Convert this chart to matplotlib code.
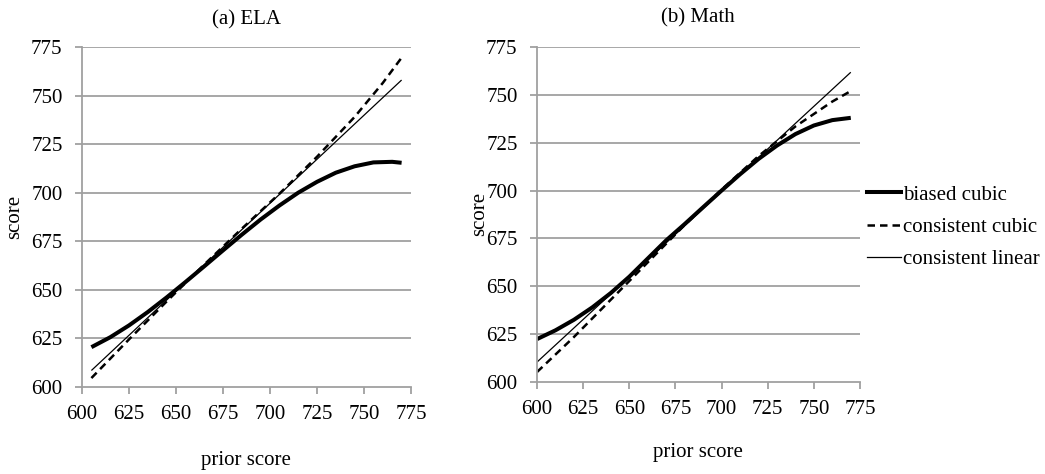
import matplotlib
matplotlib.use("Agg")
import matplotlib.pyplot as plt
from matplotlib.lines import Line2D

plt.rcParams['font.family'] = ['Liberation Serif', 'DejaVu Serif']

# ---------------- data ----------------
ela_x_biased = [605, 615, 625, 635, 645, 655, 665, 675, 685, 695, 705, 715, 725, 735, 745, 755, 765, 770]
ela_biased = [620.5, 625.6, 631.7, 638.6, 646.1, 654.0, 662.1, 670.3, 678.4, 686.2, 693.4, 700.0,
              705.6, 710.3, 713.6, 715.6, 715.9, 715.4]
ela_x_cubic = [605, 625, 645, 665, 685, 705, 725, 745, 760, 770]
ela_cubic = [604.6, 624.5, 644.0, 663.0, 681.5, 699.5, 718.5, 739.0, 756.5, 769.5]
ela_x_linear = [605, 770]
ela_linear = [608.5, 758.0]

math_x_biased = [600, 610, 620, 630, 640, 650, 660, 670, 680, 690, 700, 710, 720, 730, 740, 750, 760, 770]
math_biased = [622.4, 627.0, 632.5, 639.0, 646.5, 655.0, 664.5, 674.0, 682.5, 691.3, 700.0,
               708.5, 716.5, 723.5, 729.5, 734.0, 736.8, 738.0]
math_x_cubic = [600, 620, 640, 660, 680, 700, 720, 740, 760, 770]
math_cubic = [605.2, 623.5, 643.0, 662.5, 682.0, 700.5, 718.0, 733.5, 746.5, 752.0]
math_x_linear = [600, 770]
math_linear = [610.4, 761.8]

ticks = [600, 625, 650, 675, 700, 725, 750, 775]
titles = ["(a) ELA", "(b) Math"]
series_labels = ["biased cubic", "consistent cubic", "consistent linear"]

# ---------------- figure ----------------
W, H = 1045, 474
fig = plt.figure(figsize=(W / 100, H / 100), dpi=100)
FS = 15
GRAY = '#a0a0a0'

def px_axes(x0, x1, ytop, ybot):
    return fig.add_axes([x0 / W, 1 - ybot / H, (x1 - x0) / W, (ybot - ytop) / H])

ax1 = px_axes(82, 411, 47, 387)
ax2 = px_axes(537, 860, 47, 382)

styles = [dict(color='black', lw=2.9, ls='-'),
          dict(color='black', lw=1.8, ls=(0, (3, 2))),
          dict(color='black', lw=0.9, ls='-')]

panels = [
    (ax1, [(ela_x_biased, ela_biased), (ela_x_cubic, ela_cubic), (ela_x_linear, ela_linear)],
     titles[0], (246, 20), (15, 217), (246, 461)),
    (ax2, [(math_x_biased, math_biased), (math_x_cubic, math_cubic), (math_x_linear, math_linear)],
     titles[1], (698, 18), (480, 214), (698, 453)),
]

for ax, series, title, tpos, ylpos, xlpos in panels:
    ax.set_xlim(600, 775)
    ax.set_ylim(600, 775)
    ax.set_xticks(ticks)
    ax.set_yticks(ticks)
    for t in ticks[1:]:
        ax.axhline(t, color=GRAY, lw=1.3, zorder=0)
    for (xs, ys), st in zip(series, styles):
        ax.plot(xs, ys, solid_capstyle='butt', dash_capstyle='butt', **st)
    for s in ['top', 'right']:
        ax.spines[s].set_visible(False)
    for s in ['left', 'bottom']:
        ax.spines[s].set_color(GRAY)
        ax.spines[s].set_linewidth(1.3)
    ax.tick_params(direction='out', length=5, width=1.3, color=GRAY, labelsize=FS,
                   labelcolor='black')
    ax.tick_params(axis='x', pad=8)
    ax.tick_params(axis='y', pad=9)
    fig.text(tpos[0] / W, 1 - tpos[1] / H, title, fontsize=FS, ha='center', va='center')
    ax.set_ylabel("score", fontsize=FS, va='center', ha='center')
    ax.yaxis.set_label_coords(ylpos[0] / W, 1 - ylpos[1] / H, transform=fig.transFigure)
    ax.set_xlabel("prior score", fontsize=FS, va='center', ha='center')
    ax.xaxis.set_label_coords(xlpos[0] / W, 1 - xlpos[1] / H, transform=fig.transFigure)

handles = [Line2D([], [], **st) for st in styles]
fig.legend(handles, series_labels, loc='center left',
           bbox_to_anchor=(859 / W, 1 - 227 / H), frameon=False, fontsize=FS,
           handlelength=1.6, handletextpad=0.12, labelspacing=0.6, borderaxespad=0)

fig.savefig("out.png", dpi=100)
